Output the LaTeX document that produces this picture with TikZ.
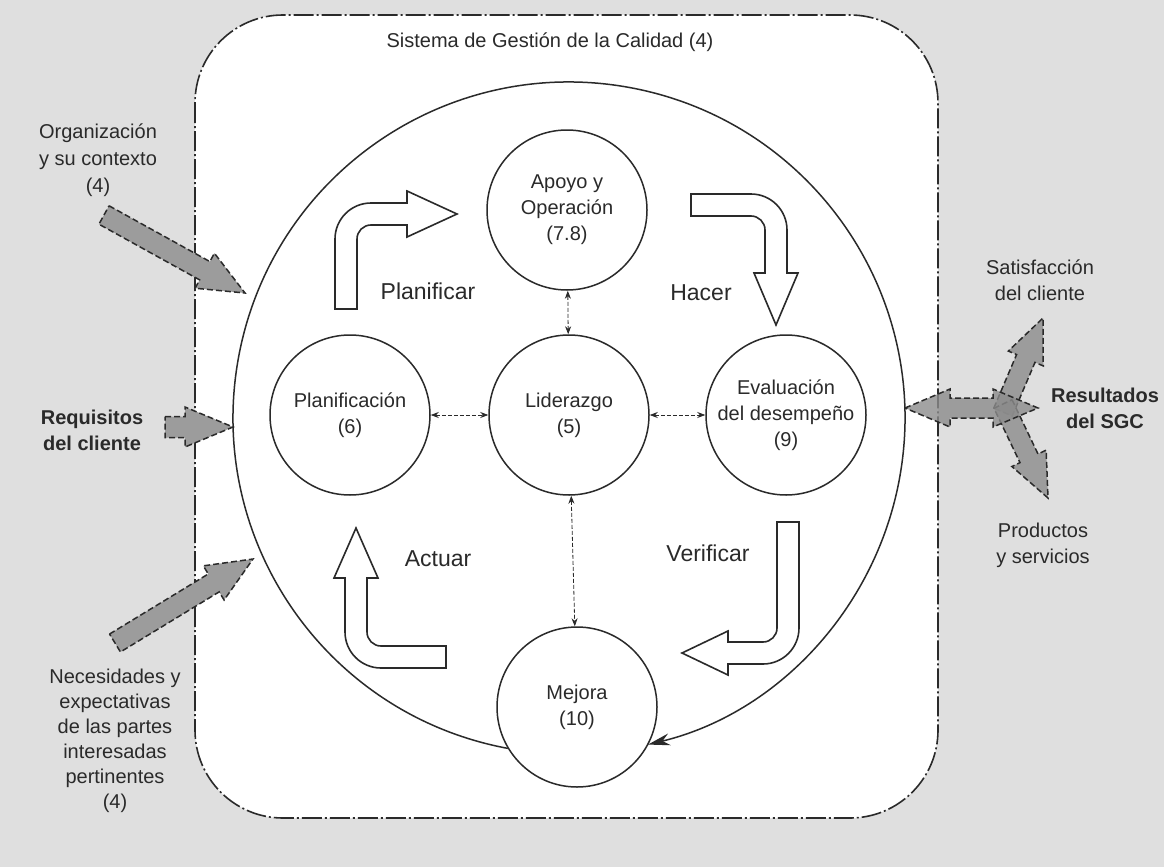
\documentclass[tikz,border=0pt]{standalone}
\usepackage{fontspec}
\setmainfont{Liberation Sans}
\usetikzlibrary{calc,arrows.meta}
\definecolor{ink}{HTML}{2A2A2A}
\definecolor{bggray}{HTML}{DFDFDF}
\definecolor{arrgray}{HTML}{9C9C9C}
\newcommand\lblfont{\fontsize{20}{26}\selectfont}
\newcommand\pdcafont{\fontsize{23}{28}\selectfont}
% block arrow: [style]{tail}{tip}{shaft half width}{head half width}{head length}
\newcommand\blockarr[6][inarrow]{%
  \path ($(#3)!#6!(#2)$) coordinate (hb);
  \draw[#1] ($(#2)!#4!90:(#3)$) -- ($(hb)!#4!90:(#3)$) -- ($(hb)!#5!90:(#3)$) -- (#3)
    -- ($(hb)!#5!-90:(#3)$) -- ($(hb)!#4!-90:(#3)$) -- ($(#2)!#4!-90:(#3)$) -- cycle;}
% double block arrow: {A}{B}{shaft half}{head half}{head length}
\newcommand\dblarr[5]{%
  \path ($(#1)!#5!(#2)$) coordinate (ha) ($(#2)!#5!(#1)$) coordinate (hb);
  \draw[outarrow] (#1) -- ($(ha)!#4!90:(#2)$) -- ($(ha)!#3!90:(#2)$) -- ($(hb)!#3!90:(#2)$)
    -- ($(hb)!#4!90:(#2)$) -- (#2) -- ($(hb)!#4!-90:(#2)$) -- ($(hb)!#3!-90:(#2)$)
    -- ($(ha)!#3!-90:(#2)$) -- ($(ha)!#4!-90:(#2)$) -- cycle;}
\begin{document}
\begin{tikzpicture}[x=1pt,y=-1pt,
  frame/.style={draw=ink,line width=1.6pt,dash pattern=on 20pt off 3pt on 2pt off 3pt,rounded corners=88pt},
  proc/.style={circle,draw=ink,line width=1.5pt,minimum size=160pt,inner sep=0pt,align=center,font=\lblfont,text=ink},
  lbl/.style={align=center,font=\lblfont,text=ink,inner sep=0pt},
  blbl/.style={lbl,font=\lblfont\bfseries},
  plbl/.style={lbl,font=\pdcafont},
  link/.style={draw=ink,line width=0.8pt,dash pattern=on 4pt off 2pt,{Stealth[length=8pt,width=6pt]}-{Stealth[length=8pt,width=6pt]}},
  ringline/.style={draw=ink,line width=1.5pt},
  pdca/.style={draw=ink,line width=1.6pt,fill=white,line join=miter},
  inarrow/.style={draw=ink,line width=1.5pt,dash pattern=on 6pt off 3pt,fill=arrgray},
  outarrow/.style={draw=ink,line width=1.5pt,dash pattern=on 6pt off 3pt,fill=black!45,fill opacity=0.8}
]
\useasboundingbox (0,0) rectangle (1164,867);
\fill[bggray] (0,0) rectangle (1164,867);
\draw[frame,fill=white] (195,15) rectangle (938,818);
\node[lbl] (title) at (550,42) {Sistema de Gestión de la Calidad (4)};

% big ring with arrow into Mejora
\coordinate (ring) at (569,418);
\draw[ringline,-{Stealth[length=22pt,width=12pt]}] ($(ring)+(100.5:336)$) arc[start angle=100.5,end angle=436.4,radius=336];

% process circles
\node[proc] (apoyo) at (567,210) {Apoyo y\\Operación\\(7.8)};
\node[proc] (lid) at (569,415) {Liderazgo\\(5)};
\node[proc] (plan) at (350,415) {Planificación\\(6)};
\node[proc] (eval) at (786,415) {Evaluación\\del desempeño\\(9)};
\node[proc] (mejora) at (577,707) {Mejora\\(10)};

\draw[link] (apoyo) -- (lid);
\draw[link] (plan) -- (lid);
\draw[link] (lid) -- (eval);
\draw[link] (lid) -- (mejora);

% PDCA bent arrows
\draw[pdca] (335,309) -- (335,239) arc[start angle=180,end angle=270,radius=36] -- (407,203) -- (407,191)
  -- (457,214) -- (407,237) -- (407,225) -- (371,225) arc[start angle=270,end angle=180,radius=14] -- (357,309) -- cycle;
\draw[pdca] (691,194) -- (751,194) arc[start angle=270,end angle=360,radius=36] -- (787,273) -- (798,273)
  -- (776,325) -- (754,273) -- (765,273) -- (765,230) arc[start angle=0,end angle=-90,radius=14] -- (691,216) -- cycle;
\draw[pdca] (777,522) -- (799,522) -- (799,628) arc[start angle=0,end angle=90,radius=36] -- (728,664) -- (728,675)
  -- (682,653) -- (728,631) -- (728,642) -- (763,642) arc[start angle=90,end angle=0,radius=14] -- cycle;
\draw[pdca] (446,668) -- (381,668) arc[start angle=90,end angle=180,radius=36] -- (345,578) -- (334,578)
  -- (356,528) -- (378,578) -- (367,578) -- (367,632) arc[start angle=180,end angle=90,radius=14] -- (446,646) -- cycle;

\node[plbl] (planificar) at (428,291) {Planificar};
\node[plbl] (hacer) at (701,293) {Hacer};
\node[plbl] (verificar) at (708,553) {Verificar};
\node[plbl] (actuar) at (438,559) {Actuar};

% inputs
\node[lbl,font=\fontsize{20}{27}\selectfont] (org) at (98,160) {Organización\\y su contexto\\(4)};
\node[blbl] (req) at (92,430) {Requisitos\\del cliente};
\node[lbl,font=\fontsize{20}{25}\selectfont] (nec) at (115,741) {Necesidades y\\expectativas\\de las partes\\interesadas\\pertinentes\\(4)};
\coordinate (orgT) at (104,215); \coordinate (orgH) at (245,293);
\coordinate (reqT) at (165,427); \coordinate (reqH) at (233,427);
\coordinate (necT) at (115,643); \coordinate (necH) at (253,559);
\blockarr{orgT}{orgH}{10.5pt}{20pt}{46pt}
\blockarr{reqT}{reqH}{10.5pt}{20pt}{48pt}
\blockarr{necT}{necH}{10.5pt}{20pt}{46pt}

% outputs
\node[lbl] (sat) at (1040,280) {Satisfacción\\del cliente};
\node[blbl] (res) at (1105,408) {Resultados\\del SGC};
\node[lbl] (prod) at (1043,545) {Productos\\y servicios};
\coordinate (satT) at (1003,412); \coordinate (satH) at (1043,318);
\coordinate (proT) at (1003,404); \coordinate (proH) at (1048,498);
\coordinate (resL) at (905,408); \coordinate (resR) at (1038,408);
\blockarr[outarrow]{satT}{satH}{10pt}{19pt}{44pt}
\blockarr[outarrow]{proT}{proH}{10pt}{19pt}{44pt}
\dblarr{resL}{resR}{10pt}{19pt}{45pt}
\end{tikzpicture}
\end{document}
